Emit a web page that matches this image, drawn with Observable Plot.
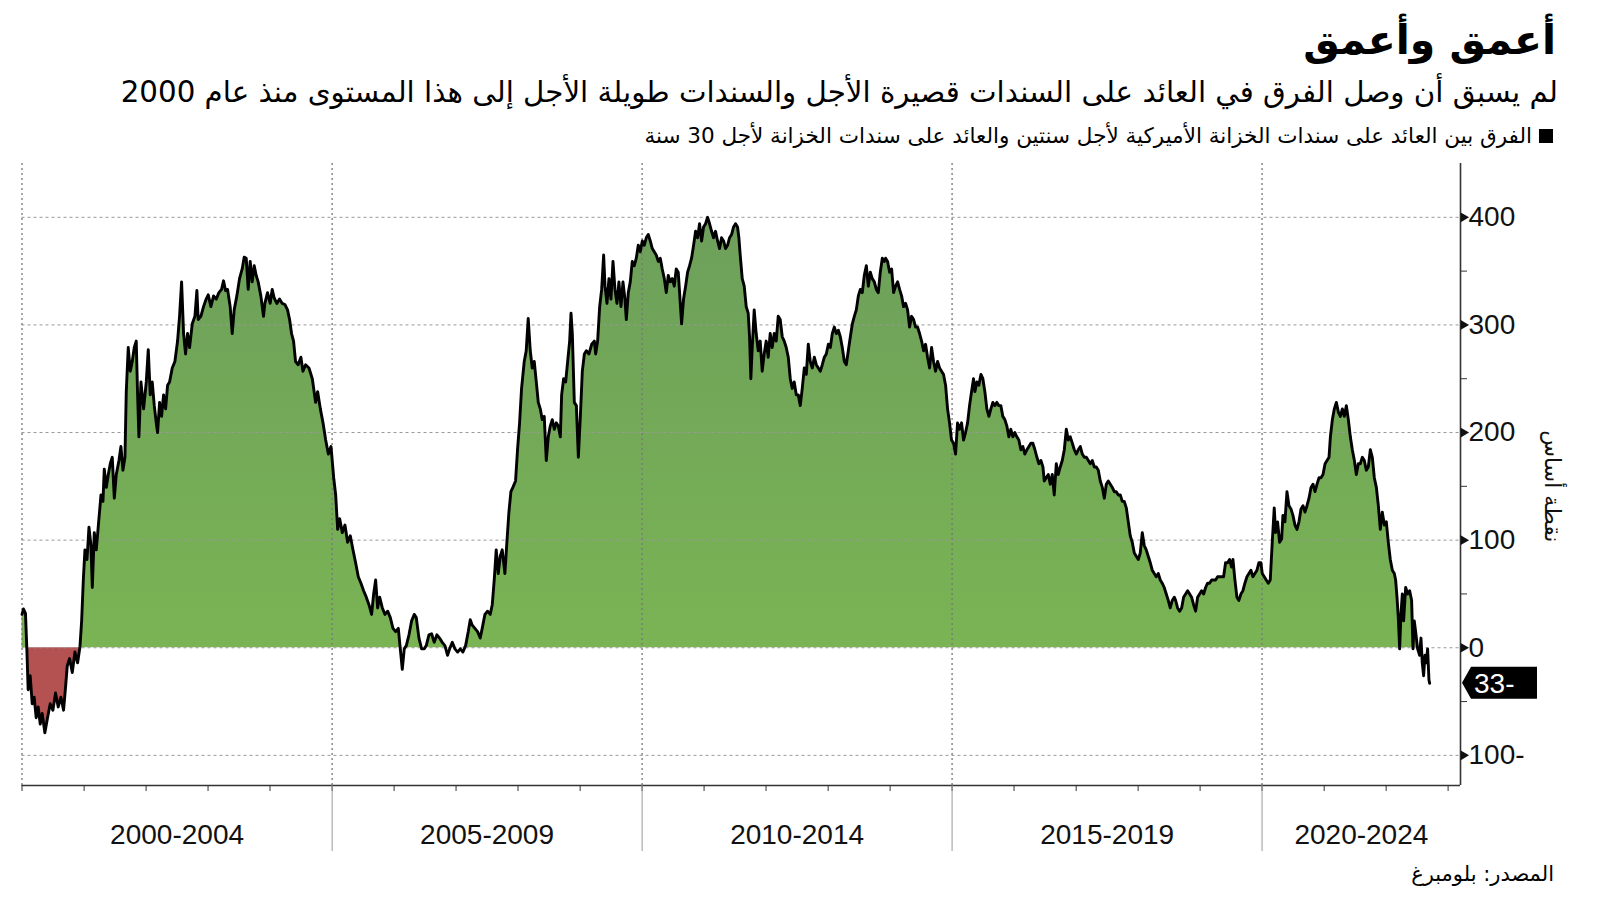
<!DOCTYPE html>
<html lang="ar">
<head>
<meta charset="utf-8">
<script src="https://cdn.jsdelivr.net/npm/d3@7"></script>
<script src="https://cdn.jsdelivr.net/npm/@observablehq/plot@0.6"></script>
<style>
html,body{margin:0;padding:0;background:#fff;width:1600px;height:901px;overflow:hidden;}
#wrap{position:relative;width:1600px;height:901px;}
.t{position:absolute;direction:rtl;white-space:nowrap;font-family:"DejaVu Sans",sans-serif;color:#000;line-height:1;}
#title{right:44px;top:20px;font-size:41px;font-weight:bold;}
#subtitle{right:42px;top:78px;font-size:29.3px;}
#legend{right:47px;top:125px;font-size:21.5px;}
#legend .sq{display:inline-block;width:14px;height:14px;background:#000;margin-left:7px;vertical-align:0px;}
#source{right:46px;top:864px;font-size:21px;}
#chart{position:absolute;left:0;top:0;}
</style>
</head>
<body>
<div id="wrap">
  <div id="chart"></div>
  <div class="t" id="title">أعمق وأعمق</div>
  <div class="t" id="subtitle">لم يسبق أن وصل الفرق في العائد على السندات قصيرة الأجل والسندات طويلة الأجل إلى هذا المستوى منذ عام 2000</div>
  <div class="t" id="legend"><span class="sq"></span>الفرق بين العائد على سندات الخزانة الأميركية لأجل سنتين والعائد على سندات الخزانة لأجل 30 سنة</div>
  <div class="t" id="source">المصدر: بلومبرغ</div>
</div>
<script>
// 2s30s spread (basis points), [decimal year, value]
const p2000_2004 = [[2000.000,31],[2000.024,36],[2000.056,32],[2000.078,-1],[2000.099,-39],[2000.132,-26],[2000.164,-52],[2000.196,-46],[2000.228,-65],[2000.261,-55],[2000.293,-71],[2000.325,-61],[2000.368,-79],[2000.411,-65],[2000.454,-52],[2000.497,-58],[2000.540,-42],[2000.583,-55],[2000.626,-46],[2000.669,-58],[2000.702,-36],[2000.728,-17],[2000.766,-10],[2000.809,-23],[2000.852,-4],[2000.895,-14],[2000.933,1],[2000.960,25],[2000.987,63],[2001.013,91],[2001.046,82],[2001.078,112],[2001.110,95],[2001.132,56],[2001.164,107],[2001.196,91],[2001.239,120],[2001.272,142],[2001.304,136],[2001.325,166],[2001.358,149],[2001.390,161],[2001.422,171],[2001.454,177],[2001.487,139],[2001.519,161],[2001.562,174],[2001.594,187],[2001.626,165],[2001.659,177],[2001.680,238],[2001.712,279],[2001.745,257],[2001.777,266],[2001.809,279],[2001.841,285],[2001.863,235],[2001.884,196],[2001.917,247],[2001.960,222],[2002.003,247],[2002.035,277],[2002.067,235],[2002.099,247],[2002.132,225],[2002.164,209],[2002.185,200],[2002.218,228],[2002.250,215],[2002.282,235],[2002.315,222],[2002.347,244],[2002.379,247],[2002.422,260],[2002.465,266],[2002.508,285],[2002.540,308],[2002.573,340],[2002.605,292],[2002.637,273],[2002.669,292],[2002.702,279],[2002.745,301],[2002.788,308],[2002.820,332],[2002.841,305],[2002.884,308],[2002.927,317],[2002.970,324],[2003.003,328],[2003.046,317],[2003.089,327],[2003.132,324],[2003.175,330],[2003.218,333],[2003.250,341],[2003.282,332],[2003.315,333],[2003.357,317],[2003.390,292],[2003.422,314],[2003.465,327],[2003.508,343],[2003.551,352],[2003.583,363],[2003.616,362],[2003.648,333],[2003.680,359],[2003.712,340],[2003.745,355],[2003.777,346],[2003.809,340],[2003.852,327],[2003.895,308],[2003.917,320],[2003.960,330],[2004.003,320],[2004.035,333],[2004.067,325],[2004.110,320],[2004.153,324],[2004.196,320],[2004.239,319],[2004.282,314],[2004.315,305],[2004.347,292],[2004.379,285],[2004.411,266],[2004.454,263],[2004.497,270],[2004.530,257],[2004.573,263],[2004.627,260],[2004.681,250],[2004.734,228],[2004.767,238],[2004.810,222],[2004.853,209],[2004.896,193],[2004.939,180],[2004.982,187]];

const p2005_2009 = [[2005.025,158],[2005.057,142],[2005.089,110],[2005.121,120],[2005.164,107],[2005.207,114],[2005.250,98],[2005.293,104],[2005.336,91],[2005.379,79],[2005.422,66],[2005.465,60],[2005.508,53],[2005.551,47],[2005.594,40],[2005.637,31],[2005.670,50],[2005.702,63],[2005.734,37],[2005.767,47],[2005.810,37],[2005.853,31],[2005.896,34],[2005.939,28],[2005.982,18],[2006.025,15],[2006.068,18],[2006.100,-1],[2006.132,-20],[2006.164,-1],[2006.197,2],[2006.240,12],[2006.283,25],[2006.326,31],[2006.358,28],[2006.401,9],[2006.444,-1],[2006.487,-1],[2006.519,2],[2006.562,12],[2006.605,13],[2006.648,5],[2006.691,12],[2006.734,9],[2006.777,5],[2006.820,2],[2006.863,-7],[2006.896,-1],[2006.939,5],[2006.982,-1],[2007.025,-4],[2007.068,-1],[2007.111,-4],[2007.154,2],[2007.197,15],[2007.229,26],[2007.261,21],[2007.304,18],[2007.347,15],[2007.390,9],[2007.422,18],[2007.466,31],[2007.508,34],[2007.551,31],[2007.584,40],[2007.616,63],[2007.648,91],[2007.681,69],[2007.713,85],[2007.745,91],[2007.788,69],[2007.820,98],[2007.853,126],[2007.885,145],[2007.917,149],[2007.960,155],[2007.992,184],[2008.025,209],[2008.057,241],[2008.100,266],[2008.132,276],[2008.164,306],[2008.197,276],[2008.229,260],[2008.261,266],[2008.294,247],[2008.326,228],[2008.358,222],[2008.390,212],[2008.422,215],[2008.455,174],[2008.487,196],[2008.519,206],[2008.551,212],[2008.584,203],[2008.616,209],[2008.648,206],[2008.681,196],[2008.702,235],[2008.734,250],[2008.767,247],[2008.799,266],[2008.831,285],[2008.853,311],[2008.874,292],[2008.906,228],[2008.939,225],[2008.971,177],[2009.003,215],[2009.035,257],[2009.068,273],[2009.100,276],[2009.143,273],[2009.186,282],[2009.229,285],[2009.250,273],[2009.282,285],[2009.315,317],[2009.347,333],[2009.379,365],[2009.401,336],[2009.433,320],[2009.465,343],[2009.497,324],[2009.530,359],[2009.562,333],[2009.594,320],[2009.626,340],[2009.659,317],[2009.691,340],[2009.723,324],[2009.745,305],[2009.777,330],[2009.809,340],[2009.841,359],[2009.874,355],[2009.906,362],[2009.938,374],[2009.970,368]];

const p2010_2014 = [[2010.003,378],[2010.035,374],[2010.067,381],[2010.099,384],[2010.132,378],[2010.164,371],[2010.196,368],[2010.228,365],[2010.261,359],[2010.293,362],[2010.325,352],[2010.358,343],[2010.390,330],[2010.422,346],[2010.454,340],[2010.487,343],[2010.519,336],[2010.551,352],[2010.583,349],[2010.605,330],[2010.637,301],[2010.669,324],[2010.702,336],[2010.734,349],[2010.766,355],[2010.798,362],[2010.831,374],[2010.863,387],[2010.895,381],[2010.927,394],[2010.960,378],[2010.992,391],[2011.024,394],[2011.056,400],[2011.089,394],[2011.121,387],[2011.153,381],[2011.185,387],[2011.218,378],[2011.250,371],[2011.282,381],[2011.315,378],[2011.347,371],[2011.379,374],[2011.411,381],[2011.444,384],[2011.476,391],[2011.508,394],[2011.540,391],[2011.562,381],[2011.583,365],[2011.616,343],[2011.648,336],[2011.680,317],[2011.712,311],[2011.734,289],[2011.755,250],[2011.777,279],[2011.809,314],[2011.841,292],[2011.874,276],[2011.906,285],[2011.938,257],[2011.970,273],[2012.003,285],[2012.035,270],[2012.067,292],[2012.099,279],[2012.132,292],[2012.164,285],[2012.196,308],[2012.228,305],[2012.261,289],[2012.293,285],[2012.325,279],[2012.358,270],[2012.390,250],[2012.422,241],[2012.454,247],[2012.487,235],[2012.519,235],[2012.551,225],[2012.583,241],[2012.616,260],[2012.648,254],[2012.680,282],[2012.712,266],[2012.745,260],[2012.777,270],[2012.809,263],[2012.841,260],[2012.874,257],[2012.906,263],[2012.938,270],[2012.970,273],[2013.003,282],[2013.035,279],[2013.067,292],[2013.099,298],[2013.132,292],[2013.164,295],[2013.196,289],[2013.228,279],[2013.261,266],[2013.293,263],[2013.325,276],[2013.358,289],[2013.390,301],[2013.422,308],[2013.454,314],[2013.487,327],[2013.519,333],[2013.551,330],[2013.583,346],[2013.616,355],[2013.648,336],[2013.680,349],[2013.712,343],[2013.745,340],[2013.777,333],[2013.809,330],[2013.841,349],[2013.874,362],[2013.906,359],[2013.927,362],[2013.959,359],[2013.992,349],[2014.024,352],[2014.056,330],[2014.088,336],[2014.121,340],[2014.153,333],[2014.185,327],[2014.217,317],[2014.250,320],[2014.282,314],[2014.314,298],[2014.346,308],[2014.379,305],[2014.411,298],[2014.443,298],[2014.475,292],[2014.508,285],[2014.540,276],[2014.572,282],[2014.604,270],[2014.637,260],[2014.669,279],[2014.701,266],[2014.733,257],[2014.766,266],[2014.798,260],[2014.830,257],[2014.862,254],[2014.895,244],[2014.927,222],[2014.959,209],[2014.991,193]];

const p2015_2019 = [[2015.024,190],[2015.056,180],[2015.088,209],[2015.120,203],[2015.153,209],[2015.185,193],[2015.217,200],[2015.250,209],[2015.282,225],[2015.314,238],[2015.346,250],[2015.368,238],[2015.400,247],[2015.432,244],[2015.465,254],[2015.497,250],[2015.529,238],[2015.561,222],[2015.594,215],[2015.626,222],[2015.658,228],[2015.690,225],[2015.723,228],[2015.755,225],[2015.787,225],[2015.819,215],[2015.852,212],[2015.884,206],[2015.916,196],[2015.948,203],[2015.981,196],[2016.013,200],[2016.045,196],[2016.077,193],[2016.110,184],[2016.142,187],[2016.174,180],[2016.207,184],[2016.239,187],[2016.271,190],[2016.303,190],[2016.336,184],[2016.368,177],[2016.400,171],[2016.432,174],[2016.465,168],[2016.486,155],[2016.518,158],[2016.551,161],[2016.583,152],[2016.615,161],[2016.647,142],[2016.680,171],[2016.712,161],[2016.744,168],[2016.776,174],[2016.809,184],[2016.841,203],[2016.873,193],[2016.905,196],[2016.938,190],[2016.970,184],[2017.002,180],[2017.034,184],[2017.067,187],[2017.099,180],[2017.131,177],[2017.164,177],[2017.196,174],[2017.228,171],[2017.260,174],[2017.293,168],[2017.325,168],[2017.357,165],[2017.389,155],[2017.422,149],[2017.454,139],[2017.486,152],[2017.518,155],[2017.551,152],[2017.583,149],[2017.615,145],[2017.647,145],[2017.680,142],[2017.712,142],[2017.744,136],[2017.776,136],[2017.809,130],[2017.841,117],[2017.873,104],[2017.905,98],[2017.938,88],[2017.970,85],[2018.002,82],[2018.034,88],[2018.067,107],[2018.099,95],[2018.131,91],[2018.163,85],[2018.196,79],[2018.228,72],[2018.260,69],[2018.292,66],[2018.325,69],[2018.357,63],[2018.389,60],[2018.421,56],[2018.454,50],[2018.486,44],[2018.518,37],[2018.551,44],[2018.583,47],[2018.605,44],[2018.637,37],[2018.670,34],[2018.702,37],[2018.734,47],[2018.766,50],[2018.799,53],[2018.831,50],[2018.863,47],[2018.895,40],[2018.928,34],[2018.960,47],[2018.992,50],[2019.024,53],[2019.057,50],[2019.089,56],[2019.121,60],[2019.153,60],[2019.186,63],[2019.218,63],[2019.250,63],[2019.282,66],[2019.315,66],[2019.347,66],[2019.379,66],[2019.411,79],[2019.444,79],[2019.476,82],[2019.508,75],[2019.530,82],[2019.562,63],[2019.594,47],[2019.626,44],[2019.659,50],[2019.691,53],[2019.723,60],[2019.756,66],[2019.788,69],[2019.820,72],[2019.852,66],[2019.885,69],[2019.917,72],[2019.949,79],[2019.981,79]];

const p2020_2024 = [[2020.003,69],[2020.035,66],[2020.067,63],[2020.100,60],[2020.132,63],[2020.164,98],[2020.196,130],[2020.218,107],[2020.250,117],[2020.282,98],[2020.315,101],[2020.336,123],[2020.368,117],[2020.401,145],[2020.433,132],[2020.465,129],[2020.497,123],[2020.530,114],[2020.562,110],[2020.594,117],[2020.627,129],[2020.659,132],[2020.691,126],[2020.723,132],[2020.756,139],[2020.788,149],[2020.820,152],[2020.852,145],[2020.885,152],[2020.917,158],[2020.949,158],[2020.981,161],[2021.014,171],[2021.046,174],[2021.078,177],[2021.100,196],[2021.132,212],[2021.164,222],[2021.196,228],[2021.229,219],[2021.261,215],[2021.293,222],[2021.325,215],[2021.358,225],[2021.390,212],[2021.422,196],[2021.454,184],[2021.487,174],[2021.519,161],[2021.551,171],[2021.583,171],[2021.616,177],[2021.648,174],[2021.680,165],[2021.712,168],[2021.745,184],[2021.777,177],[2021.809,158],[2021.842,149],[2021.874,132],[2021.906,110],[2021.938,126],[2021.971,114],[2022.003,117],[2022.035,98],[2022.067,82],[2022.100,72],[2022.132,69],[2022.153,63],[2022.175,47],[2022.196,28],[2022.218,-1],[2022.239,31],[2022.261,50],[2022.282,25],[2022.315,56],[2022.347,50],[2022.379,53],[2022.411,44],[2022.433,-1],[2022.454,25],[2022.476,15],[2022.508,-1],[2022.540,-7],[2022.562,9],[2022.583,-14],[2022.605,-26],[2022.626,-7],[2022.648,-14],[2022.669,-1],[2022.691,-30],[2022.702,-33]];

const periodStarts = [2000, 2005, 2010, 2015, 2020];
const periodLabels = ["2000-2004", "2005-2009", "2010-2014", "2015-2019", "2020-2024"];
const yMajor = [-100, 0, 100, 200, 300, 400];
const yMajorLabels = ["100-", "0", "100", "200", "300", "400"];
const yMinor = [-50, 50, 150, 250, 350];
const yTitle = "نقطة أساس";
const xDomainYears = [2000, 2023.2];
const yDomain = [-128, 450];

const toDate = t => {
  const y = Math.floor(t);
  const s = Date.UTC(y, 0, 1), e = Date.UTC(y + 1, 0, 1);
  return new Date(s + (t - y) * (e - s));
};
const toRows = arr => arr.map(([t, v]) => ({date: toDate(t), value: v}));
const data = toRows([...p2000_2004, ...p2005_2009, ...p2010_2014, ...p2015_2019, ...p2020_2024]);
const inversion2000 = toRows(p2000_2004);
const last = data[data.length - 1];
const xStart = toDate(xDomainYears[0]);
const xEnd = toDate(xDomainYears[1]);
const yearTicks = d3.range(2000, 2024).map(y => toDate(y));
const bigTicks = periodStarts.slice(1).map(toDate);
const mids = periodStarts.map(s => toDate((s + Math.min(s + 5, xDomainYears[1])) / 2));
const midLabel = new Map(mids.map((d, i) => [+d, periodLabels[i]]));
const numFont = "'Liberation Sans', Arial, sans-serif";

function endLabel(index, scales, values, dims) {
  const x0 = dims.width - dims.marginRight + 2;
  const yc = scales.y(last.value);
  const h = 32, w = 75, a = 9;
  const g = d3.create("svg:g");
  g.append("path")
    .attr("d", `M${x0},${yc} L${x0 + a},${yc - h / 2} L${x0 + w},${yc - h / 2} L${x0 + w},${yc + h / 2} L${x0 + a},${yc + h / 2} Z`)
    .attr("fill", "#000");
  g.append("text")
    .attr("x", x0 + 12).attr("y", yc).attr("dy", "0.36em")
    .attr("text-anchor", "start").attr("direction", "ltr")
    .attr("fill", "#fff").attr("font-size", 28).attr("font-family", numFont)
    .text(`${Math.abs(last.value)}${last.value < 0 ? "-" : ""}`);
  return g.node();
}

const chart = Plot.plot({
  width: 1600,
  height: 901,
  marginTop: 163,
  marginBottom: 116,
  marginLeft: 21.5,
  marginRight: 140,
  x: {type: "utc", domain: [xStart, xEnd]},
  y: {domain: yDomain},
  style: {background: "transparent", fontFamily: numFont},
  marks: [
    Plot.areaY(data, {x: "date", y1: 0, y2: d => Math.max(0, d.value), fill: "url(#greenGrad)", curve: "linear"}),
    Plot.areaY(inversion2000, {x: "date", y1: 0, y2: d => Math.min(0, d.value), fill: "#b35250", curve: "linear"}),
    Plot.ruleY(yMajor, {stroke: "#999", strokeWidth: 1, strokeDasharray: "3,3"}),
    Plot.ruleX(periodStarts.map(toDate), {stroke: "#777", strokeWidth: 1.3, strokeDasharray: "2,3"}),
    Plot.lineY(data, {x: "date", y: "value", stroke: "#000", strokeWidth: 2.9, strokeLinejoin: "round"}),
    Plot.ruleY([yDomain[0]], {stroke: "#333", strokeWidth: 1.6}),
    Plot.ruleX([xEnd], {stroke: "#333", strokeWidth: 1.6}),
    Plot.axisX({ticks: yearTicks, tickSize: 6, tickFormat: () => "", stroke: "#333", label: null}),
    Plot.axisX({ticks: bigTicks, tickSize: 66, tickFormat: () => "", stroke: "#999", label: null}),
    Plot.axisX({ticks: mids, tickSize: 0, tickPadding: 39, tickFormat: d => midLabel.get(+d), fontSize: 28, fill: "#111", label: null}),
    Plot.axisY({anchor: "right", ticks: yMinor, tickSize: 6, tickFormat: () => "", stroke: "#333", label: null}),
    Plot.dot(yMajor, {y: d => d, frameAnchor: "right", symbol: "triangle", rotate: 90, r: 3.6, fill: "#111", dx: 3}),
    Plot.text(yMajor, {y: d => d, frameAnchor: "right", text: (d, i) => yMajorLabels[i], dx: 8, textAnchor: "start", fontSize: 28, fill: "#111"}),
    Plot.text([yTitle], {frameAnchor: "right", y: 150, dx: 92, rotate: 90, textAnchor: "middle", fontSize: 22, fill: "#111", fontFamily: "'DejaVu Sans', sans-serif"}),
    endLabel
  ]
});

const ys = chart.scale("y");
const defs = d3.select(chart).insert("defs", ":first-child");
const grad = defs.append("linearGradient").attr("id", "greenGrad")
  .attr("gradientUnits", "userSpaceOnUse")
  .attr("x1", 0).attr("x2", 0)
  .attr("y1", ys.apply(400)).attr("y2", ys.apply(0));
grad.append("stop").attr("offset", 0).attr("stop-color", "#6d9f5b");
grad.append("stop").attr("offset", 1).attr("stop-color", "#7ab454");

document.getElementById("chart").appendChild(chart);
</script>
</body>
</html>
